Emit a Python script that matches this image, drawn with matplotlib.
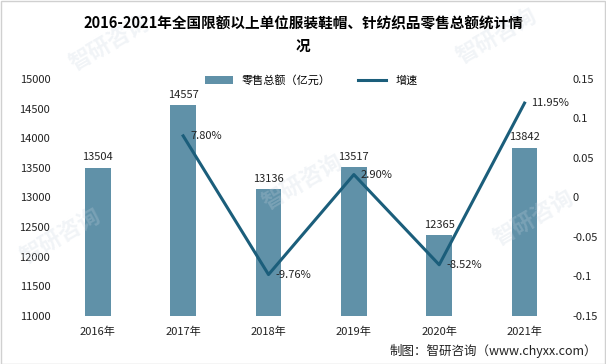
import matplotlib.pyplot as plt

plt.rcParams['font.family'] = ['Noto Sans CJK SC', 'DejaVu Sans']

years = ['2016年', '2017年', '2018年', '2019年', '2020年', '2021年']
sales = [13504, 14557, 13136, 13517, 12365, 13842]
growth_years = ['2017年', '2018年', '2019年', '2020年', '2021年']
growth = [0.078, -0.0976, 0.029, -0.0852, 0.1195]
growth_labels = ['7.80%', '-9.76%', '2.90%', '-8.52%', '11.95%']

bar_color = '#6091a8'
line_color = '#1b5e7b'

fig = plt.figure(figsize=(6.06, 3.64), dpi=100)
ax = fig.add_axes([0.091, 0.132, 0.845, 0.651])
ax2 = ax.twinx()

x = list(range(len(years)))
ax.bar(x, sales, width=0.3, color=bar_color, label='零售总额（亿元）', zorder=2)
for xi, v in zip(x, sales):
    ax.text(xi, v + 90, str(v), ha='center', va='bottom', fontsize=8, color='#222222')
ax.set_ylim(11000, 15000)
ax.set_yticks(range(11000, 15001, 500))
ax.set_xticks(x)
ax.set_xticklabels(years)
ax.set_xlim(-0.5, 5.5)

gx = [years.index(y) for y in growth_years]
ax2.plot(gx, growth, color=line_color, lw=2.2, label='增速', zorder=3)
for xi, v, s in zip(gx, growth, growth_labels):
    ax2.text(xi + 0.08, v, s, ha='left', va='center', fontsize=8, color='#222222')
ax2.set_ylim(-0.15, 0.15)
ax2.set_yticks([-0.15, -0.1, -0.05, 0, 0.05, 0.1, 0.15])
ax2.set_yticklabels(['-0.15', '-0.1', '-0.05', '0', '0.05', '0.1', '0.15'])

for a in (ax, ax2):
    for s in a.spines.values():
        s.set_visible(False)
    a.tick_params(length=0, labelsize=8, colors='#222222')
ax.tick_params(axis='x', pad=8)

h1, l1 = ax.get_legend_handles_labels()
h2, l2 = ax2.get_legend_handles_labels()
ax.legend(h1 + h2, l1 + l2, loc='upper center', bbox_to_anchor=(0.5, 1.06), ncol=2,
          frameon=False, fontsize=8, handlelength=2.5, columnspacing=2.5)

fig.text(0.5, 0.935, '2016-2021年全国限额以上单位服装鞋帽、针纺织品零售总额统计情', ha='center',
         va='center', fontsize=10.5, fontweight='bold')
fig.text(0.5, 0.875, '况', ha='center', va='center', fontsize=10.5, fontweight='bold')
fig.text(0.985, 0.035, '制图：智研咨询（www.chyxx.com）', ha='right', va='center', fontsize=9, color='#222222')

# faint watermark
for wx, wy in [(0.18, 0.88), (0.82, 0.9), (0.1, 0.35), (0.5, 0.5), (0.88, 0.4)]:
    fig.text(wx, wy, '智研咨询', fontsize=16, color='#c8d4e0', alpha=0.25, rotation=30,
             ha='center', va='center', fontweight='bold', zorder=0)

fig.patches.append(plt.Rectangle((0.001, 0.001), 0.997, 0.997, transform=fig.transFigure,
                                 fill=False, edgecolor='#d0d0d0', lw=1))

fig.savefig('out.png', dpi=100)
